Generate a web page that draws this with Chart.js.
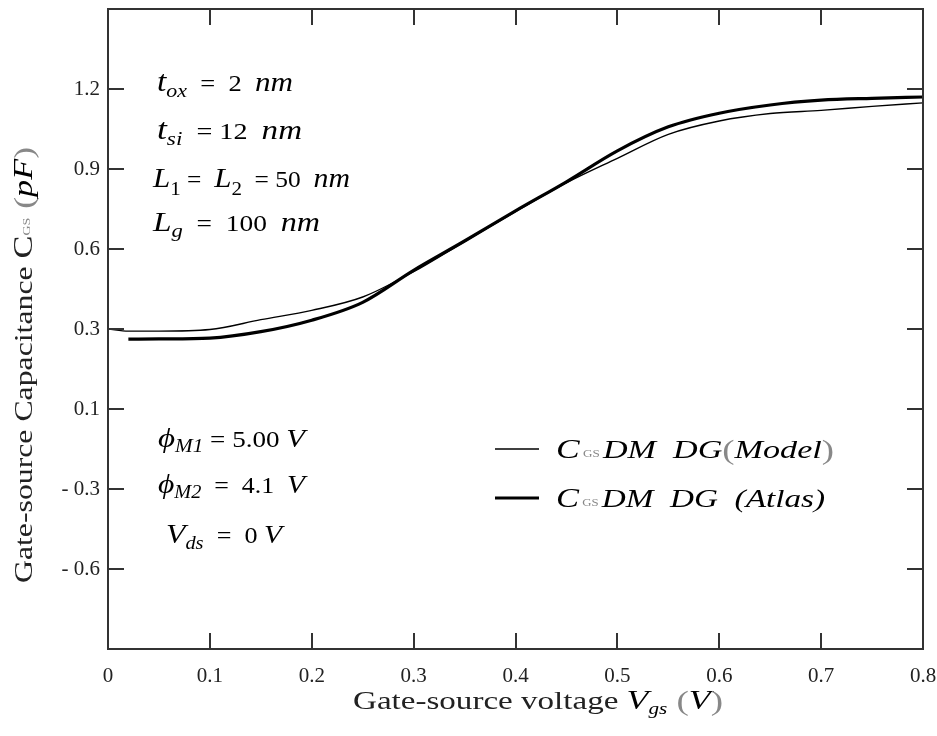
<!DOCTYPE html>
<html lang="en">
<head>
<meta charset="UTF-8">
<title>Gate-source capacitance</title>
<script src="https://cdn.jsdelivr.net/npm/chart.js"></script>
<style>
  body { margin: 0; background: #fff; }
  #wrap { width: 937px; height: 736px; }
</style>
</head>
<body>
<div id="wrap">
  <canvas id="CgsChart" width="937" height="736"></canvas>
</div>
<script>
// values
const vgs   = [0, 0.02, 0.05, 0.1, 0.15, 0.2, 0.25, 0.3, 0.35, 0.4, 0.45, 0.5, 0.55, 0.6, 0.65, 0.7, 0.75, 0.8];
const model = [0.300, 0.292, 0.292, 0.298, 0.335, 0.370, 0.420, 0.515, 0.628, 0.740, 0.848, 0.940, 1.030, 1.080, 1.108, 1.120, 1.135, 1.148];
const atlas = [null, 0.262, 0.263, 0.266, 0.290, 0.333, 0.400, 0.520, 0.630, 0.743, 0.852, 0.968, 1.058, 1.109, 1.140, 1.158, 1.165, 1.170];

const xTickValues = [0, 0.1, 0.2, 0.3, 0.4, 0.5, 0.6, 0.7, 0.8];
const xTickLabels = ['0', '0.1', '0.2', '0.3', '0.4', '0.5', '0.6', '0.7', '0.8'];
const yTickValues = [1.2, 0.9, 0.6, 0.3, 0, -0.3, -0.6];
const yTickLabels = ['1.2', '0.9', '0.6', '0.3', '0.1', '- 0.3', '- 0.6'];

const SERIF = "'Liberation Serif', 'DejaVu Serif', serif";
const INK = '#000';
const GREY = '#888';
const FRAME = '#333';

// a row of text pieces [text, size, italic, dy, color], stretched to span `width`
function drawRuns(ctx, x, y, width, parts) {
    const fontOf = p => (p[2] ? 'italic ' : '') + p[1] + 'px ' + SERIF;
    let natural = 0;
    parts.forEach(p => { ctx.font = fontOf(p); natural += ctx.measureText(p[0]).width; });
    ctx.save();
    ctx.translate(x, y);
    ctx.scale(width / natural, 1);
    ctx.textAlign = 'left';
    ctx.textBaseline = 'alphabetic';
    let cx = 0;
    parts.forEach(p => {
        ctx.font = fontOf(p);
        ctx.fillStyle = p[4] || INK;
        ctx.fillText(p[0], cx, p[3] || 0);
        cx += ctx.measureText(p[0]).width;
    });
    ctx.restore();
}

const decor = {
    id: 'decor',
    afterDraw(chart) {
        const ctx = chart.ctx;
        const a = chart.chartArea;
        const xs = chart.scales.x, ys = chart.scales.y;
        ctx.save();

        // frame and inward ticks
        ctx.strokeStyle = FRAME;
        ctx.lineWidth = 2;
        ctx.strokeRect(a.left, a.top, a.right - a.left, a.bottom - a.top);
        ctx.beginPath();
        xTickValues.slice(1, -1).forEach(v => {
            const px = Math.round(xs.getPixelForValue(v));
            ctx.moveTo(px, a.bottom); ctx.lineTo(px, a.bottom - 16);
            ctx.moveTo(px, a.top); ctx.lineTo(px, a.top + 16);
        });
        yTickValues.forEach(v => {
            const py = Math.round(ys.getPixelForValue(v));
            ctx.moveTo(a.left, py); ctx.lineTo(a.left + 16, py);
            ctx.moveTo(a.right, py); ctx.lineTo(a.right - 16, py);
        });
        ctx.stroke();

        // device parameters
        drawRuns(ctx, 157, 91, 136, [['t', 29, true], ['ox', 19, true, 6], ['  =  2  ', 23], ['nm', 27, true]]);
        drawRuns(ctx, 157, 139, 145, [['t', 29, true], ['si', 19, true, 6], ['  = 12  ', 23], ['nm', 27, true]]);
        drawRuns(ctx, 153, 187, 197, [['L', 28, true], ['1', 19, false, 8], [' =  ', 23], ['L', 28, true], ['2', 19, false, 8], ['  = 50  ', 23], ['nm', 27, true]]);
        drawRuns(ctx, 153, 231, 167, [['L', 28, true], ['g', 19, true, 6], ['  =  100  ', 23], ['nm', 27, true]]);

        drawRuns(ctx, 158, 447, 147, [['\u03D5', 28, true], ['M1', 18, true, 5], [' = 5.00 ', 23], ['V', 26, true]]);
        drawRuns(ctx, 158, 493, 147, [['\u03D5', 28, true], ['M2', 18, true, 5], ['  =  4.1  ', 23], ['V', 26, true]]);
        drawRuns(ctx, 166, 543, 116, [['V', 28, true], ['ds', 18, true, 6], ['  =  0 ', 23], ['V', 26, true]]);

        // legend
        const ds = chart.data.datasets;
        [[449, ds[0]], [498, ds[1]]].forEach(([ly, d]) => {
            ctx.strokeStyle = d.borderColor;
            ctx.lineWidth = d.borderWidth;
            ctx.beginPath();
            ctx.moveTo(495, ly); ctx.lineTo(539, ly);
            ctx.stroke();
        });
        drawRuns(ctx, 556, 458, 278, [['C', 27, true], [' GS ', 10, false, -1, GREY], ['DM  DG', 26, true], ['(', 28, false, 1, GREY], ['Model', 26, true], [')', 28, false, 1, GREY]]);
        drawRuns(ctx, 556, 507, 269, [['C', 27, true], [' GS ', 10, false, -1, GREY], ['DM  DG  (Atlas)', 26, true]]);

        // x axis title
        drawRuns(ctx, 353, 709, 370, [['Gate-source voltage ', 25, false, 0, '#222'], ['V', 27, true], ['gs', 16, true, 5], [' (', 28, false, 1, GREY], ['V', 27, true], [')', 28, false, 1, GREY]]);

        // y axis title, rotated, reading upward from its bottom end
        ctx.translate(32, 583);
        ctx.rotate(-Math.PI / 2);
        drawRuns(ctx, 0, 0, 436, [['Gate-source Capacitance ', 25, false, 0, '#222'], ['C', 27, false, 0, '#222'], ['GS', 11, false, -2, GREY], [' (', 28, false, 1, GREY], ['pF', 27, true], [')', 28, false, 1, GREY]]);

        ctx.restore();
    }
};

const ctx = document.getElementById('CgsChart').getContext('2d');
new Chart(ctx, {
    type: 'line',
    data: {
        datasets: [{
            label: 'CGS DM DG (Model)',
            data: vgs.map((v, i) => ({ x: v, y: model[i] })),
            borderColor: '#000',
            borderWidth: 1.4,
            pointRadius: 0,
            cubicInterpolationMode: 'monotone',
            fill: false
        }, {
            label: 'CGS DM DG (Atlas)',
            data: vgs.map((v, i) => ({ x: v, y: atlas[i] })),
            borderColor: '#000',
            borderWidth: 3.2,
            pointRadius: 0,
            cubicInterpolationMode: 'monotone',
            fill: false
        }]
    },
    options: {
        responsive: false,
        animation: false,
        layout: { padding: { left: 0, top: 9, right: 14, bottom: 0 } },
        plugins: { legend: { display: false }, tooltip: { enabled: false } },
        scales: {
            x: {
                type: 'linear',
                min: 0, max: 0.8,
                afterBuildTicks: s => { s.ticks = xTickValues.map(v => ({ value: v })); },
                afterFit: s => { s.height = 87; s.paddingLeft = 0; s.paddingRight = 0; },
                grid: { display: false },
                border: { display: false },
                ticks: {
                    padding: 7,
                    color: '#222',
                    font: { family: SERIF, size: 21 },
                    callback: (v, i) => xTickLabels[i]
                }
            },
            y: {
                type: 'linear',
                min: -0.9, max: 1.5,
                afterBuildTicks: s => { s.ticks = yTickValues.map(v => ({ value: v })); },
                afterFit: s => { s.width = 108; s.paddingTop = 0; s.paddingBottom = 0; },
                grid: { display: false },
                border: { display: false },
                ticks: {
                    padding: 0,
                    color: '#222',
                    font: { family: SERIF, size: 21 },
                    callback: (v, i) => yTickLabels[i]
                }
            }
        }
    },
    plugins: [decor]
});
</script>
</body>
</html>
